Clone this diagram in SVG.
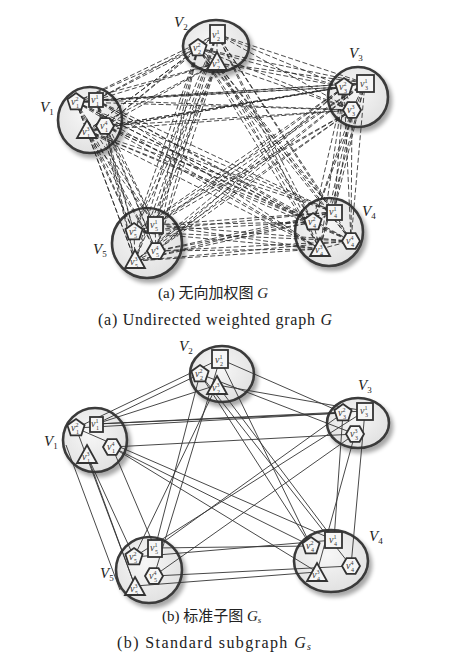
<svg xmlns="http://www.w3.org/2000/svg" xmlns:xlink="http://www.w3.org/1999/xlink" width="457" height="660" viewBox="0 0 457 660">
<style>
.cl{fill:url(#gf);stroke:#3a3a3a;stroke-width:2.6;filter:url(#sh)}
.sp{fill:#f6f6f6;stroke:#333;stroke-width:1.8}
.dash{fill:none;stroke:#2a2a2a;stroke-width:0.85;stroke-dasharray:5 2.5}
.sol{fill:none;stroke:#333;stroke-width:0.9}
.lab{font-family:"Liberation Serif","DejaVu Serif",serif;font-style:italic;font-size:15px;fill:#222}
.lab tspan{font-size:9px;font-style:normal}
.v{font-family:"Liberation Serif","DejaVu Serif",serif;font-style:italic;font-size:10px;fill:#333}
.v tspan{font-size:6px;font-style:normal}
.cap{font-family:"Liberation Serif","DejaVu Serif","Noto Sans CJK SC",serif;font-size:16px;fill:#222}
.capz{font-family:"Liberation Serif","Noto Sans CJK SC",serif;font-size:15px;fill:#222}
.it{font-style:italic}
</style>
<defs>
<radialGradient id="gf" cx="0.45" cy="0.4" r="0.7">
<stop offset="0" stop-color="#f7f7f7"/><stop offset="1" stop-color="#dedede"/>
</radialGradient>
<filter id="sh" x="-20%" y="-20%" width="150%" height="150%">
<feGaussianBlur in="SourceAlpha" stdDeviation="2"/>
<feOffset dx="3" dy="4" result="o"/>
<feComponentTransfer><feFuncA type="linear" slope="0.35"/></feComponentTransfer>
<feMerge><feMergeNode/><feMergeNode in="SourceGraphic"/></feMerge>
</filter>
<polygon id="pent" points="0,-9 8.6,-2.8 5.3,7.3 -5.3,7.3 -8.6,-2.8"/>
<polygon id="hex" points="-9,0 -4.5,-7.8 4.5,-7.8 9,0 4.5,7.8 -4.5,7.8"/>
<polygon id="tri" points="0,-9 10,9 -10,9"/>
</defs>
<rect width="457" height="660" fill="#fff"/>

<!-- ===== Top graph clusters (ellipses) ===== -->
<g id="top-clusters">
<ellipse class="cl" cx="90" cy="120" rx="32" ry="33"/>
<ellipse class="cl" cx="216" cy="46" rx="33" ry="26"/>
<ellipse class="cl" cx="358" cy="97" rx="30" ry="30"/>
<ellipse class="cl" cx="329" cy="232" rx="34" ry="34"/>
<ellipse class="cl" cx="147" cy="243" rx="35" ry="35"/>
</g>

<g id="connectors-top">
<path class="dash" d="M76 102L217 34M76 102L198 48M76 102L217 63M96 100L217 34M96 100L198 48M96 100L217 63M105 126L217 34M105 126L198 48M105 126L217 63M87 131L217 34M87 131L198 48M87 131L217 63"/>
<path class="dash" d="M76 102L365 83M76 102L344 87M76 102L352 110M96 100L365 83M96 100L344 87M96 100L352 110M105 126L365 83M105 126L344 87M105 126L352 110M87 131L365 83M87 131L344 87M87 131L352 110"/>
<path class="dash" d="M76 102L334 212M76 102L313 222M76 102L351 241M76 102L320 249M96 100L334 212M96 100L313 222M96 100L351 241M96 100L320 249M105 126L334 212M105 126L313 222M105 126L351 241M105 126L320 249M87 131L334 212M87 131L313 222M87 131L351 241M87 131L320 249"/>
<path class="dash" d="M76 102L134 232M76 102L155 225M76 102L156 251M76 102L135 261M96 100L134 232M96 100L155 225M96 100L156 251M96 100L135 261M105 126L134 232M105 126L155 225M105 126L156 251M105 126L135 261M87 131L134 232M87 131L155 225M87 131L156 251M87 131L135 261"/>
<path class="dash" d="M217 34L365 83M217 34L344 87M217 34L352 110M198 48L365 83M198 48L344 87M198 48L352 110M217 63L365 83M217 63L344 87M217 63L352 110"/>
<path class="dash" d="M217 34L334 212M217 34L313 222M217 34L351 241M217 34L320 249M198 48L334 212M198 48L313 222M198 48L351 241M198 48L320 249M217 63L334 212M217 63L313 222M217 63L351 241M217 63L320 249"/>
<path class="dash" d="M217 34L134 232M217 34L155 225M217 34L156 251M217 34L135 261M198 48L134 232M198 48L155 225M198 48L156 251M198 48L135 261M217 63L134 232M217 63L155 225M217 63L156 251M217 63L135 261"/>
<path class="dash" d="M365 83L334 212M365 83L313 222M365 83L351 241M365 83L320 249M344 87L334 212M344 87L313 222M344 87L351 241M344 87L320 249M352 110L334 212M352 110L313 222M352 110L351 241M352 110L320 249"/>
<path class="dash" d="M365 83L134 232M365 83L155 225M365 83L156 251M365 83L135 261M344 87L134 232M344 87L155 225M344 87L156 251M344 87L135 261M352 110L134 232M352 110L155 225M352 110L156 251M352 110L135 261"/>
<path class="dash" d="M334 212L134 232M334 212L155 225M334 212L156 251M334 212L135 261M313 222L134 232M313 222L155 225M313 222L156 251M313 222L135 261M351 241L134 232M351 241L155 225M351 241L156 251M351 241L135 261M320 249L134 232M320 249L155 225M320 249L156 251M320 249L135 261"/>
<path class="dash" d="M76 102L96 100M96 100L105 126M87 131L105 126M76 102L87 131M217 34L198 48M198 48L217 63M217 34L217 63M365 83L344 87M344 87L352 110M365 83L352 110M334 212L313 222M313 222L320 249M334 212L351 241M320 249L351 241M134 232L155 225M155 225L156 251M135 261L156 251M134 232L135 261"/>
</g>

<!-- Top nodes -->
<g id="V1-top">
<text class="lab" x="40" y="112">V<tspan dy="3">1</tspan></text>
<use href="#pent" x="76" y="102" class="sp"/>
<rect class="sp" x="89" y="93" width="14" height="14"/>
<use href="#hex" x="105" y="126" class="sp"/>
<use href="#tri" x="87" y="129" class="sp"/>
<text class="v" x="71" y="105">v<tspan dy="-4">2</tspan><tspan x="76" dy="7">1</tspan></text>
<text class="v" x="91" y="103">v<tspan dy="-4">1</tspan><tspan x="96" dy="7">1</tspan></text>
<text class="v" x="100" y="129">v<tspan dy="-4">4</tspan><tspan x="105" dy="7">1</tspan></text>
<text class="v" x="82" y="135">v<tspan dy="-4">3</tspan><tspan x="87" dy="7">1</tspan></text>
</g>
<g id="V2-top">
<text class="lab" x="174" y="27">V<tspan dy="3">2</tspan></text>
<rect class="sp" x="210" y="25" width="15" height="18"/>
<use href="#pent" x="198" y="48" class="sp"/>
<use href="#tri" x="217" y="61" class="sp"/>
<text class="v" x="212" y="38">v<tspan dy="-4">1</tspan><tspan x="217" dy="7">2</tspan></text>
<text class="v" x="193" y="51">v<tspan dy="-4">2</tspan><tspan x="198" dy="7">2</tspan></text>
<text class="v" x="212" y="67">v<tspan dy="-4">3</tspan><tspan x="217" dy="7">2</tspan></text>
</g>
<g id="V3-top">
<text class="lab" x="349" y="58">V<tspan dy="3">3</tspan></text>
<rect class="sp" x="357" y="75" width="17" height="17"/>
<use href="#pent" x="344" y="87" class="sp"/>
<use href="#hex" x="352" y="110" class="sp"/>
<text class="v" x="360" y="87">v<tspan dy="-4">1</tspan><tspan x="365" dy="7">3</tspan></text>
<text class="v" x="339" y="90">v<tspan dy="-4">2</tspan><tspan x="344" dy="7">3</tspan></text>
<text class="v" x="347" y="113">v<tspan dy="-4">3</tspan><tspan x="352" dy="7">3</tspan></text>
</g>
<g id="V4-top">
<text class="lab" x="362" y="216">V<tspan dy="3">4</tspan></text>
<rect class="sp" x="327" y="205" width="15" height="15"/>
<use href="#pent" x="313" y="222" class="sp"/>
<use href="#hex" x="351" y="241" class="sp"/>
<use href="#tri" x="320" y="247" class="sp"/>
<text class="v" x="329" y="215">v<tspan dy="-4">1</tspan><tspan x="334" dy="7">4</tspan></text>
<text class="v" x="308" y="225">v<tspan dy="-4">2</tspan><tspan x="313" dy="7">4</tspan></text>
<text class="v" x="346" y="244">v<tspan dy="-4">4</tspan><tspan x="351" dy="7">4</tspan></text>
<text class="v" x="315" y="253">v<tspan dy="-4">3</tspan><tspan x="320" dy="7">4</tspan></text>
</g>
<g id="V5-top">
<text class="lab" x="93" y="254">V<tspan dy="3">5</tspan></text>
<use href="#pent" x="134" y="232" class="sp"/>
<rect class="sp" x="148" y="217" width="15" height="16"/>
<use href="#hex" x="156" y="251" class="sp"/>
<use href="#tri" x="135" y="259" class="sp"/>
<text class="v" x="129" y="235">v<tspan dy="-4">2</tspan><tspan x="134" dy="7">5</tspan></text>
<text class="v" x="150" y="228">v<tspan dy="-4">1</tspan><tspan x="155" dy="7">5</tspan></text>
<text class="v" x="151" y="254">v<tspan dy="-4">4</tspan><tspan x="156" dy="7">5</tspan></text>
<text class="v" x="130" y="265">v<tspan dy="-4">3</tspan><tspan x="135" dy="7">5</tspan></text>
</g>

<g id="caption-a">
<text class="capz" x="158" y="298">(a) 无向加权图 <tspan class="it">G</tspan></text>
<text class="cap" x="98" y="325" textLength="234" lengthAdjust="spacing">(a) Undirected weighted graph <tspan class="it">G</tspan></text>
</g>

<!-- ===== Bottom graph ===== -->
<g id="bottom-clusters">
<ellipse class="cl" cx="95" cy="440" rx="32" ry="32"/>
<ellipse class="cl" cx="222" cy="374" rx="32" ry="28"/>
<ellipse class="cl" cx="358" cy="423" rx="31" ry="25"/>
<ellipse class="cl" cx="331" cy="561" rx="37" ry="31"/>
<ellipse class="cl" cx="149" cy="570" rx="33" ry="33"/>
</g>

<g id="connectors-bottom">
<path class="sol" d="M96 424L200 374M76 428L220 359M96 424L217 385M96 424L343 413M112 447L355 434M96 424L365 411M76 428L343 413M112 447L311 546M112 447L317 572M76 428L334 540M87 455L134 557M112 447L155 548M87 455L135 586M76 428L135 586M220 359L343 413M200 374L355 434M217 385L365 411M217 385L334 540M220 359L311 546M200 374L351 566M200 374L155 548M217 385L134 557M220 359L154 576M355 434L317 572M365 411L351 566M343 413L334 540M343 413L155 548M355 434L154 576M365 411L134 557M311 546L155 548M317 572L135 586M351 566L154 576M334 540L134 557M66 445L120 590M200 374L311 546"/>
</g>

<g id="V1-bottom">
<text class="lab" x="44" y="446">V<tspan dy="3">1</tspan></text>
<use href="#pent" x="76" y="428" class="sp"/>
<rect class="sp" x="90" y="417" width="13" height="15"/>
<use href="#hex" x="112" y="447" class="sp"/>
<use href="#tri" x="87" y="454" class="sp"/>
<text class="v" x="71" y="431">v<tspan dy="-4">2</tspan><tspan x="76" dy="7">1</tspan></text>
<text class="v" x="91" y="427">v<tspan dy="-4">1</tspan><tspan x="96" dy="7">1</tspan></text>
<text class="v" x="107" y="450">v<tspan dy="-4">4</tspan><tspan x="112" dy="7">1</tspan></text>
<text class="v" x="82" y="460">v<tspan dy="-4">3</tspan><tspan x="87" dy="7">1</tspan></text>
</g>
<g id="V2-bottom">
<text class="lab" x="179" y="351">V<tspan dy="3">2</tspan></text>
<rect class="sp" x="212" y="350" width="16" height="18"/>
<use href="#pent" x="200" y="374" class="sp"/>
<use href="#tri" x="217" y="385" class="sp"/>
<text class="v" x="215" y="363">v<tspan dy="-4">1</tspan><tspan x="220" dy="7">2</tspan></text>
<text class="v" x="195" y="377">v<tspan dy="-4">2</tspan><tspan x="200" dy="7">2</tspan></text>
<text class="v" x="212" y="391">v<tspan dy="-4">3</tspan><tspan x="217" dy="7">2</tspan></text>
</g>
<g id="V3-bottom">
<text class="lab" x="358" y="390">V<tspan dy="3">3</tspan></text>
<use href="#pent" x="343" y="413" class="sp"/>
<rect class="sp" x="357" y="403" width="16" height="17"/>
<use href="#hex" x="355" y="434" class="sp"/>
<text class="v" x="338" y="416">v<tspan dy="-4">2</tspan><tspan x="343" dy="7">3</tspan></text>
<text class="v" x="360" y="414">v<tspan dy="-4">1</tspan><tspan x="365" dy="7">3</tspan></text>
<text class="v" x="350" y="437">v<tspan dy="-4">3</tspan><tspan x="355" dy="7">3</tspan></text>
</g>
<g id="V4-bottom">
<text class="lab" x="369" y="541">V<tspan dy="3">4</tspan></text>
<rect class="sp" x="325" y="532" width="17" height="16"/>
<use href="#pent" x="311" y="546" class="sp"/>
<use href="#hex" x="351" y="566" class="sp"/>
<use href="#tri" x="317" y="572" class="sp"/>
<text class="v" x="329" y="543">v<tspan dy="-4">1</tspan><tspan x="334" dy="7">4</tspan></text>
<text class="v" x="306" y="549">v<tspan dy="-4">2</tspan><tspan x="311" dy="7">4</tspan></text>
<text class="v" x="346" y="569">v<tspan dy="-4">4</tspan><tspan x="351" dy="7">4</tspan></text>
<text class="v" x="312" y="578">v<tspan dy="-4">3</tspan><tspan x="317" dy="7">4</tspan></text>
</g>
<g id="V5-bottom">
<text class="lab" x="100" y="578">V<tspan dy="3">5</tspan></text>
<use href="#pent" x="134" y="557" class="sp"/>
<rect class="sp" x="148" y="540" width="14" height="17"/>
<use href="#hex" x="154" y="576" class="sp"/>
<use href="#tri" x="135" y="586" class="sp"/>
<text class="v" x="129" y="560">v<tspan dy="-4">2</tspan><tspan x="134" dy="7">5</tspan></text>
<text class="v" x="150" y="551">v<tspan dy="-4">1</tspan><tspan x="155" dy="7">5</tspan></text>
<text class="v" x="149" y="579">v<tspan dy="-4">4</tspan><tspan x="154" dy="7">5</tspan></text>
<text class="v" x="130" y="592">v<tspan dy="-4">3</tspan><tspan x="135" dy="7">5</tspan></text>
</g>

<g id="caption-b">
<text class="capz" x="162" y="621">(b) 标准子图 <tspan class="it">G</tspan><tspan class="it" font-size="9" dy="2">s</tspan></text>
<text class="cap" x="117" y="648" textLength="194" lengthAdjust="spacing">(b) Standard subgraph <tspan class="it">G</tspan><tspan class="it" font-size="10" dy="2">s</tspan></text>
</g>
</svg>
